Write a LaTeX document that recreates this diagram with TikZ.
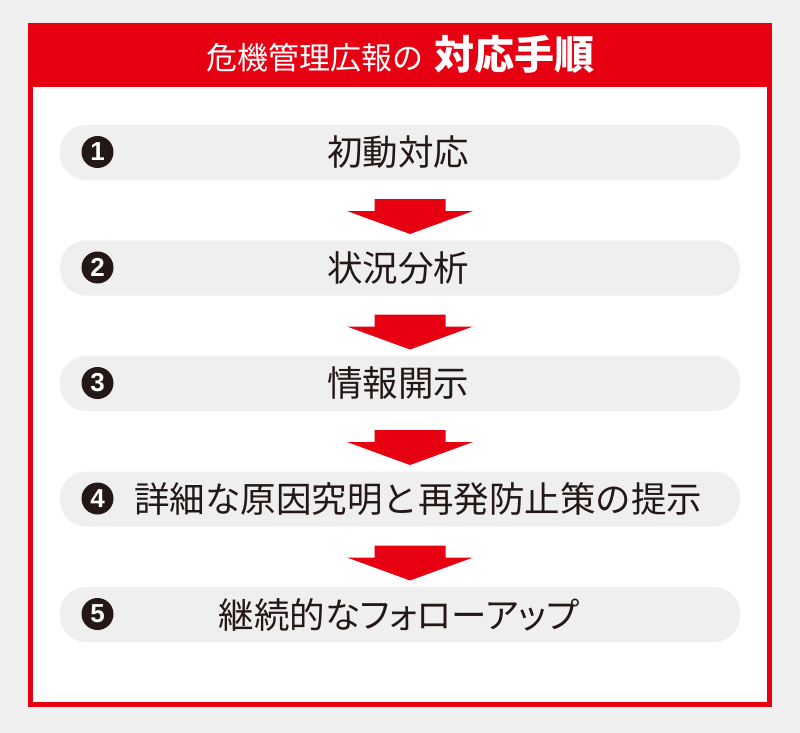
\documentclass[tikz,border=0pt]{standalone}
\usepackage{fontspec}
\newfontfamily\jp{Noto Sans CJK JP}
\newfontfamily\jpp{Noto Sans CJK JP}[RawFeature=+palt]
\newfontfamily\numfont{Liberation Sans}
\definecolor{crred}{HTML}{E60012}
\definecolor{bggray}{HTML}{EFEFEF}
\definecolor{inkblack}{HTML}{231815}
\tikzset{
  barbox/.style={fill=bggray, draw=none, rounded corners=26pt, minimum width=680pt, minimum height=55pt, inner sep=0pt},
  numdot/.style={circle, fill=inkblack, minimum size=32pt, inner sep=0pt, text=white, font=\numfont\bfseries\fontsize{26}{26}\selectfont},
  steptext/.style={inner sep=0pt, text=inkblack, font=\jp\fontsize{35.5}{35.5}\selectfont},
  downarrow/.pic={\fill[crred] (-35.5,0) -- (35.5,0) -- (35.5,12) -- (63,12) -- (0,35) -- (-63,12) -- (-35.5,12) -- cycle;}
}
\begin{document}
\begin{tikzpicture}[x=1pt,y=-1pt]
\fill[bggray] (0,0) rectangle (800,733);
\useasboundingbox (0,0) rectangle (800,733);
% frame
\fill[crred] (28,23) rectangle (772,707);
\fill[white] (33,87) rectangle (767,702);
% header
\node[anchor=base, inner sep=0pt, text=white] (title) at (400,70)
  {\jp\fontsize{31}{31}\selectfont 危機管理広報の\hspace{11pt}{\fontsize{40}{40}\selectfont\bfseries 対応手順}};
% bars
\node[barbox] (b1) at (400,152.5) {};
\node[barbox] (b2) at (400,268) {};
\node[barbox] (b3) at (400,383.5) {};
\node[barbox] (b4) at (400,499) {};
\node[barbox] (b5) at (400,614.5) {};
% numbers
\node[numdot] (n1) at (97.5,152) {1};
\node[numdot] (n2) at (97.5,267.5) {2};
\node[numdot] (n3) at (97.5,383) {3};
\node[numdot] (n4) at (97.5,498.5) {4};
\node[numdot] (n5) at (97.5,614) {5};
% texts
\node[steptext] (t1) at (398,152.5) {初動対応};
\node[steptext] (t2) at (398,268) {状況分析};
\node[steptext] (t3) at (398,383.5) {情報開示};
\node[steptext] (t4) at (418,499) {詳細な原因究明と再発防止策の提示};
\node[steptext, font=\jpp\fontsize{35.5}{35.5}\selectfont] (t5) at (399,614.5) {継続的なフォローアップ};
% arrows
\pic at (410,199) {downarrow};
\pic at (410,314.5) {downarrow};
\pic at (410,430) {downarrow};
\pic at (410,545.5) {downarrow};
\end{tikzpicture}
\end{document}
